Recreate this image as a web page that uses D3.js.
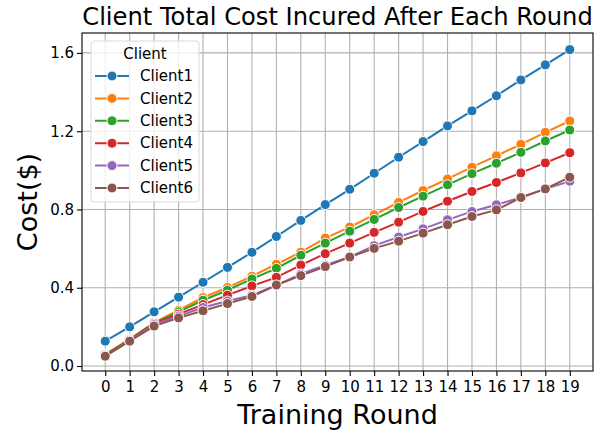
<!DOCTYPE html>
<html>
<head>
<meta charset="utf-8">
<script src="https://cdn.jsdelivr.net/npm/d3@7"></script>
<style>
  body { margin: 0; background: #fff; }
  text { font-family: "DejaVu Sans", sans-serif; }
</style>
</head>
<body>
<div id="chart"></div>
<script>
// Data
const rounds = d3.range(0, 20);
const clientNames = ['Client1', 'Client2', 'Client3', 'Client4', 'Client5', 'Client6'];
const client1 = [0.127, 0.200, 0.277, 0.352, 0.428, 0.504, 0.581, 0.662, 0.744, 0.825, 0.903, 0.985, 1.067, 1.147, 1.227, 1.304, 1.381, 1.462, 1.539, 1.617];
const client2 = [0.060, 0.138, 0.222, 0.285, 0.350, 0.401, 0.459, 0.520, 0.582, 0.654, 0.710, 0.773, 0.836, 0.897, 0.956, 1.016, 1.074, 1.133, 1.194, 1.252];
const client3 = [0.058, 0.135, 0.220, 0.277, 0.336, 0.387, 0.445, 0.499, 0.566, 0.628, 0.689, 0.749, 0.810, 0.868, 0.926, 0.983, 1.036, 1.092, 1.150, 1.206];
const client4 = [0.055, 0.133, 0.218, 0.265, 0.314, 0.362, 0.409, 0.453, 0.516, 0.574, 0.628, 0.683, 0.735, 0.790, 0.842, 0.892, 0.938, 0.987, 1.038, 1.090];
const client5 = [0.052, 0.130, 0.212, 0.255, 0.299, 0.332, 0.362, 0.412, 0.470, 0.515, 0.557, 0.615, 0.659, 0.701, 0.747, 0.790, 0.824, 0.861, 0.905, 0.944];
const client6 = [0.050, 0.127, 0.204, 0.246, 0.282, 0.319, 0.355, 0.414, 0.462, 0.508, 0.557, 0.601, 0.638, 0.679, 0.722, 0.764, 0.798, 0.861, 0.905, 0.965];
const yTicks = [0.0, 0.4, 0.8, 1.2, 1.6];
const colors = ['#1f77b4', '#ff7f0e', '#2ca02c', '#d62728', '#9467bd', '#8c564b'];

const allSeries = [client1, client2, client3, client4, client5, client6];

const width = 611, height = 433;
const margin = {top: 33, right: 18, bottom: 62, left: 82};
const w = width - margin.left - margin.right;
const h = height - margin.top - margin.bottom;

const svg = d3.select('#chart')
    .append('svg')
    .attr('width', width)
    .attr('height', height);

const g = svg.append('g')
    .attr('transform', `translate(${margin.left},${margin.top})`);

// Scales (matplotlib style 5% padding)
const x = d3.scaleLinear().domain([-0.95, 19.95]).range([0, w]);
const y = d3.scaleLinear().domain([-0.0255, 1.7018]).range([h, 0]);

// Grid
g.append('g')
    .selectAll('line')
    .data(rounds)
    .enter()
    .append('line')
    .attr('x1', d => x(d)).attr('x2', d => x(d))
    .attr('y1', 0).attr('y2', h)
    .attr('stroke', '#b0b0b0')
    .attr('stroke-width', 1.1);

g.append('g')
    .selectAll('line')
    .data(yTicks)
    .enter()
    .append('line')
    .attr('x1', 0).attr('x2', w)
    .attr('y1', d => y(d)).attr('y2', d => y(d))
    .attr('stroke', '#b0b0b0')
    .attr('stroke-width', 1.1);

// Axes
const xAxis = g.append('g')
    .attr('transform', `translate(0,${h})`)
    .call(d3.axisBottom(x).tickValues(rounds).tickFormat(d3.format('d')).tickSize(5).tickSizeOuter(0));
xAxis.select('.domain').remove();
xAxis.selectAll('text').attr('font-size', 15).attr('dy', '0.85em').attr('fill', '#000');
xAxis.selectAll('line').attr('stroke', '#000').attr('stroke-width', 1.1);

const yAxis = g.append('g')
    .call(d3.axisLeft(y).tickValues(yTicks).tickFormat(d3.format('.1f')).tickSize(5).tickSizeOuter(0));
yAxis.select('.domain').remove();
yAxis.selectAll('text').attr('font-size', 15).attr('fill', '#000').attr('x', -8);
yAxis.selectAll('line').attr('stroke', '#000').attr('stroke-width', 1.1);

// Lines and markers
const line = d3.line()
    .x((d, i) => x(rounds[i]))
    .y(d => y(d));

allSeries.forEach((series, k) => {
    g.append('path')
        .datum(series)
        .attr('fill', 'none')
        .attr('stroke', colors[k])
        .attr('stroke-width', 2)
        .attr('d', line);
    g.append('g')
        .selectAll('circle')
        .data(series)
        .enter()
        .append('circle')
        .attr('cx', (d, i) => x(rounds[i]))
        .attr('cy', d => y(d))
        .attr('r', 5)
        .attr('fill', colors[k])
        .attr('stroke', '#fff')
        .attr('stroke-width', 1);
});

// Frame
g.append('rect')
    .attr('width', w).attr('height', h)
    .attr('fill', 'none')
    .attr('stroke', '#000')
    .attr('stroke-width', 1.1);

// Legend
const legend = g.append('g').attr('transform', 'translate(9,8)');
legend.append('rect')
    .attr('width', 108).attr('height', 161)
    .attr('rx', 3)
    .attr('fill', 'rgba(255,255,255,0.8)')
    .attr('stroke', '#d9d9d9');
legend.append('text')
    .attr('x', 54).attr('y', 18)
    .attr('text-anchor', 'middle')
    .attr('font-size', 15)
    .text('Client');
clientNames.forEach((name, k) => {
    const ly = 35 + k * 22.4;
    legend.append('line')
        .attr('x1', 4).attr('x2', 38)
        .attr('y1', ly).attr('y2', ly)
        .attr('stroke', colors[k]).attr('stroke-width', 2);
    legend.append('circle')
        .attr('cx', 21).attr('cy', ly).attr('r', 5)
        .attr('fill', colors[k]).attr('stroke', '#fff').attr('stroke-width', 1);
    legend.append('text')
        .attr('x', 49).attr('y', ly)
        .attr('dy', '0.35em')
        .attr('font-size', 15)
        .text(name);
});

// Title and axis labels
svg.append('text')
    .attr('x', margin.left + w / 2).attr('y', 25)
    .attr('text-anchor', 'middle')
    .attr('font-size', 24.2)
    .text('Client Total Cost Incured After Each Round');

svg.append('text')
    .attr('x', margin.left + w / 2).attr('y', 424)
    .attr('text-anchor', 'middle')
    .attr('font-size', 27)
    .text('Training Round');

svg.append('text')
    .attr('transform', `translate(37,${margin.top + h / 2}) rotate(-90)`)
    .attr('text-anchor', 'middle')
    .attr('font-size', 27)
    .text('Cost($)');
</script>
</body>
</html>
